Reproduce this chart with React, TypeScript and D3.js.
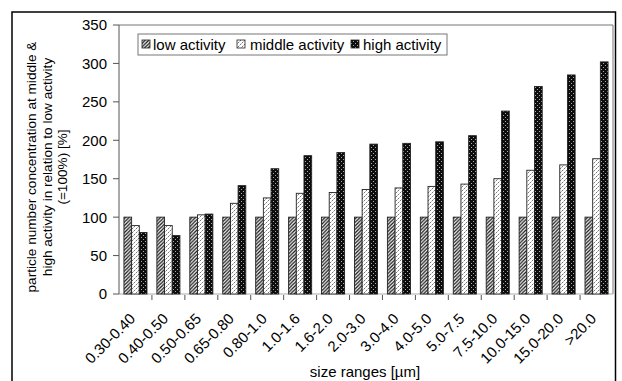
import * as d3 from "d3";

const categories = [
  "0.30-0.40", "0.40-0.50", "0.50-0.65", "0.65-0.80", "0.80-1.0",
  "1.0-1.6", "1.6-2.0", "2.0-3.0", "3.0-4.0", "4.0-5.0",
  "5.0-7.5", "7.5-10.0", "10.0-15.0", "15.0-20.0", ">20.0",
];
const lowActivity = [100, 100, 100, 100, 100, 100, 100, 100, 100, 100, 100, 100, 100, 100, 100];
const middleActivity = [89, 89, 103, 118, 125, 131, 132, 136, 138, 140, 143, 150, 161, 168, 176];
const highActivity = [80, 76, 104, 141, 163, 180, 184, 195, 196, 198, 206, 238, 270, 285, 302];
const seriesNames = ["low activity", "middle activity", "high activity"];
const yTicks = [0, 50, 100, 150, 200, 250, 300, 350];

const FONT = "'Liberation Sans', Arial, sans-serif";

export default function App() {
  const width = 622;
  const height = 381;
  const margin = { top: 25, right: 9, bottom: 87, left: 119 };

  const x = d3.scaleBand<string>()
    .domain(categories)
    .range([margin.left, width - margin.right])
    .padding(0);
  const bw = x.bandwidth();
  const inner = d3.scaleBand<string>()
    .domain(seriesNames)
    .range([bw * 0.15, bw * 0.85]);
  const y = d3.scaleLinear().domain([0, 350]).range([height - margin.bottom, margin.top]);

  const series = [
    { name: seriesNames[0], values: lowActivity, fill: "url(#pLow)" },
    { name: seriesNames[1], values: middleActivity, fill: "url(#pMid)" },
    { name: seriesNames[2], values: highActivity, fill: "url(#pHigh)" },
  ];

  const x0 = margin.left;
  const x1 = width - margin.right;
  const y0 = y(0);
  const yTop = y(350);

  const legendItems = [
    { label: seriesNames[0], fill: "url(#pLow)", sx: 142, tx: 153 },
    { label: seriesNames[1], fill: "url(#pMid)", sx: 237, tx: 250 },
    { label: seriesNames[2], fill: "url(#pHigh)", sx: 351, tx: 363 },
  ];

  return (
    <div style={{ position: "fixed", left: 0, top: 0 }}>
      <svg width={width} height={height} style={{ display: "block", background: "#fff" }} fontFamily={FONT}>
        <defs>
          <pattern id="pLow" width={3.5} height={3.5} patternUnits="userSpaceOnUse">
            <rect width={3.5} height={3.5} fill="#fff" />
            <path d="M-1,1 l2,-2 M0,3.5 l3.5,-3.5 M2.5,4.5 l2,-2" stroke="#1a1a1a" strokeWidth={1.3} />
          </pattern>
          <pattern id="pMid" width={4} height={4} patternUnits="userSpaceOnUse">
            <rect width={4} height={4} fill="#fff" />
            <rect x={0} y={0} width={1} height={1} fill="#777" />
            <rect x={2} y={2} width={1} height={1} fill="#777" />
            <rect x={1} y={3} width={1} height={1} fill="#bbb" />
            <rect x={3} y={1} width={1} height={1} fill="#ccc" />
          </pattern>
          <pattern id="pHigh" width={4} height={4} patternUnits="userSpaceOnUse">
            <rect width={4} height={4} fill="#0d0d0d" />
            <rect x={1} y={1} width={1} height={1} fill="#aaa" />
            <rect x={3} y={3} width={1} height={1} fill="#aaa" />
          </pattern>
        </defs>

        {/* outer frame */}
        <rect x={12} y={12} width={603.5} height={380} fill="none" stroke="#000" strokeWidth={1.5} />

        {/* plot frame */}
        <line x1={x0} x2={x1} y1={yTop} y2={yTop} stroke="#777" strokeWidth={1} />
        <line x1={x1} x2={x1} y1={yTop} y2={y0} stroke="#777" strokeWidth={1} />
        <line x1={x0} x2={x1} y1={y0} y2={y0} stroke="#aaa" strokeWidth={1} />

        {/* bars */}
        {series.map((s) => (
          <g key={s.name}>
            {s.values.map((v, i) => (
              <rect
                key={i}
                x={(x(categories[i]) ?? 0) + (inner(s.name) ?? 0)}
                y={y(v)}
                width={inner.bandwidth()}
                height={y0 - y(v)}
                fill={s.fill}
                stroke="#222"
                strokeWidth={0.9}
              />
            ))}
          </g>
        ))}

        {/* y axis */}
        <line x1={x0} x2={x0} y1={yTop} y2={y0} stroke="#555" strokeWidth={1} />
        {yTicks.map((t) => (
          <g key={t}>
            <line x1={x0 - 6} x2={x0} y1={y(t)} y2={y(t)} stroke="#555" />
            <text x={107} y={y(t)} dy="0.36em" textAnchor="end" fontSize={15} fill="#000">{t}</text>
          </g>
        ))}

        {/* x axis ticks and labels */}
        {categories.map((c, i) => (
          <g key={c}>
            {i > 0 && (
              <line x1={x(c)} x2={x(c)} y1={y0 + 1} y2={y0 + 6} stroke="#555" />
            )}
            <text
              transform={`translate(${(x(c) ?? 0) + bw / 2 - 3},${y0 + 22}) rotate(-45)`}
              textAnchor="end"
              dy="0.35em"
              fontSize={15}
              fill="#000"
            >
              {c}
            </text>
          </g>
        ))}

        {/* axis titles */}
        <text x={365} y={377} textAnchor="middle" fontSize={15} fill="#000">size ranges [µm]</text>
        <g transform="translate(0,167) rotate(-90)" fontSize={13.6} fill="#000" textAnchor="middle">
          <text x={0} y={36}>particle number concentration at middle &amp;</text>
          <text x={0} y={52}>high activity in relation to low activity</text>
          <text x={0} y={67}>(=100%) [%]</text>
        </g>

        {/* legend */}
        <rect x={138} y={34} width={309} height={21} fill="#fff" stroke="#777" strokeWidth={1} />
        {legendItems.map((d) => (
          <g key={d.label}>
            <rect x={d.sx} y={40} width={8} height={8} fill={d.fill} stroke="#222" strokeWidth={0.8} />
            <text x={d.tx} y={49.5} fontSize={15} fill="#000">{d.label}</text>
          </g>
        ))}
      </svg>
    </div>
  );
}
